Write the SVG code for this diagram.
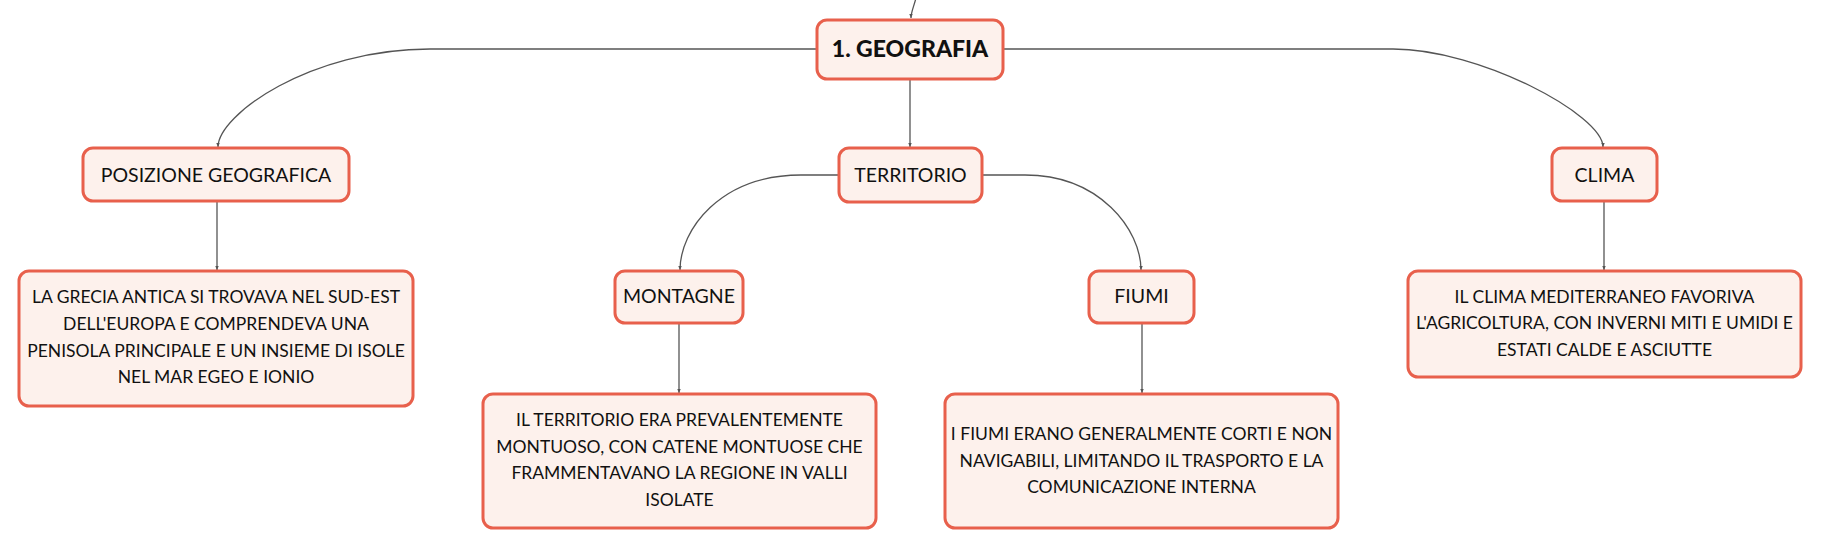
<svg xmlns="http://www.w3.org/2000/svg" width="1821" height="549" viewBox="0 0 1821 549">
<style>
.box{fill:#fdf1ec;stroke:#e8604c;stroke-width:3}
.t{font-family:Lato,"Noto Sans",sans-serif;font-size:19.5px;fill:#111;text-anchor:middle}
.d{font-family:Lato,"Noto Sans",sans-serif;font-size:17.5px;fill:#111;text-anchor:middle}
.h{font-family:Lato,"Noto Sans",sans-serif;font-size:23px;font-weight:900;fill:#111;text-anchor:middle}
.c{fill:none;stroke:#555;stroke-width:1.3}
</style>
<defs>
<marker id="ar" viewBox="0 0 8 8" refX="7" refY="4" markerWidth="5" markerHeight="5" orient="auto" markerUnits="userSpaceOnUse">
<path d="M0,1 L7,4 L0,7 Z" fill="#555"/>
</marker>
</defs>
<rect width="1821" height="549" fill="#ffffff"/>
<g id="connectors">
<path class="c" d="M916,-2 C914,6 911,12 911,18" marker-end="url(#ar)"/>
<path class="c" d="M817,49 L430,49 C310,49 218,115 218,147" marker-end="url(#ar)"/>
<path class="c" d="M1003,49 L1393,49 C1480,49 1603,115 1603,147" marker-end="url(#ar)"/>
<path class="c" d="M910,79 L910,147" marker-end="url(#ar)"/>
<path class="c" d="M839,175 L801,175 C720,175 680,230 680,270" marker-end="url(#ar)"/>
<path class="c" d="M982,175 L1025,175 C1100,175 1141,230 1141,270" marker-end="url(#ar)"/>
<path class="c" d="M217,201 L217,270" marker-end="url(#ar)"/>
<path class="c" d="M679,323 L679,393" marker-end="url(#ar)"/>
<path class="c" d="M1142,323 L1142,393" marker-end="url(#ar)"/>
<path class="c" d="M1604,201 L1604,270" marker-end="url(#ar)"/>
</g>
<g id="geografia">
<rect class="box" x="817" y="20" width="186" height="59" rx="10"/>
<text class="h" x="910" y="57">1. GEOGRAFIA</text>
</g>
<g id="posizione">
<rect class="box" x="83" y="148" width="266" height="53" rx="10"/>
<text class="t" x="216" y="182">POSIZIONE GEOGRAFICA</text>
</g>
<g id="territorio">
<rect class="box" x="839" y="148" width="143" height="54" rx="10"/>
<text class="t" x="910.5" y="182">TERRITORIO</text>
</g>
<g id="clima">
<rect class="box" x="1552" y="148" width="105" height="53" rx="10"/>
<text class="t" x="1604.5" y="182">CLIMA</text>
</g>
<g id="montagne">
<rect class="box" x="615" y="271" width="128" height="52" rx="10"/>
<text class="t" x="679" y="303">MONTAGNE</text>
</g>
<g id="fiumi">
<rect class="box" x="1089" y="271" width="105" height="52" rx="10"/>
<text class="t" x="1141.5" y="303">FIUMI</text>
</g>
<g id="posizione-desc">
<rect class="box" x="19" y="271" width="394" height="135" rx="10"/>
<text class="d" x="216" y="303">LA GRECIA ANTICA SI TROVAVA NEL SUD-EST</text>
<text class="d" x="216" y="330">DELL'EUROPA E COMPRENDEVA UNA</text>
<text class="d" x="216" y="357">PENISOLA PRINCIPALE E UN INSIEME DI ISOLE</text>
<text class="d" x="216" y="383">NEL MAR EGEO E IONIO</text>
</g>
<g id="montagne-desc">
<rect class="box" x="483" y="394" width="393" height="134" rx="10"/>
<text class="d" x="679.5" y="426">IL TERRITORIO ERA PREVALENTEMENTE</text>
<text class="d" x="679.5" y="453">MONTUOSO, CON CATENE MONTUOSE CHE</text>
<text class="d" x="679.5" y="479">FRAMMENTAVANO LA REGIONE IN VALLI</text>
<text class="d" x="679.5" y="506">ISOLATE</text>
</g>
<g id="fiumi-desc">
<rect class="box" x="945" y="394" width="393" height="134" rx="10"/>
<text class="d" x="1141.5" y="440">I FIUMI ERANO GENERALMENTE CORTI E NON</text>
<text class="d" x="1141.5" y="467">NAVIGABILI, LIMITANDO IL TRASPORTO E LA</text>
<text class="d" x="1141.5" y="493">COMUNICAZIONE INTERNA</text>
</g>
<g id="clima-desc">
<rect class="box" x="1408" y="271" width="393" height="106" rx="10"/>
<text class="d" x="1604.5" y="303">IL CLIMA MEDITERRANEO FAVORIVA</text>
<text class="d" x="1604.5" y="329">L'AGRICOLTURA, CON INVERNI MITI E UMIDI E</text>
<text class="d" x="1604.5" y="356">ESTATI CALDE E ASCIUTTE</text>
</g>
</svg>
